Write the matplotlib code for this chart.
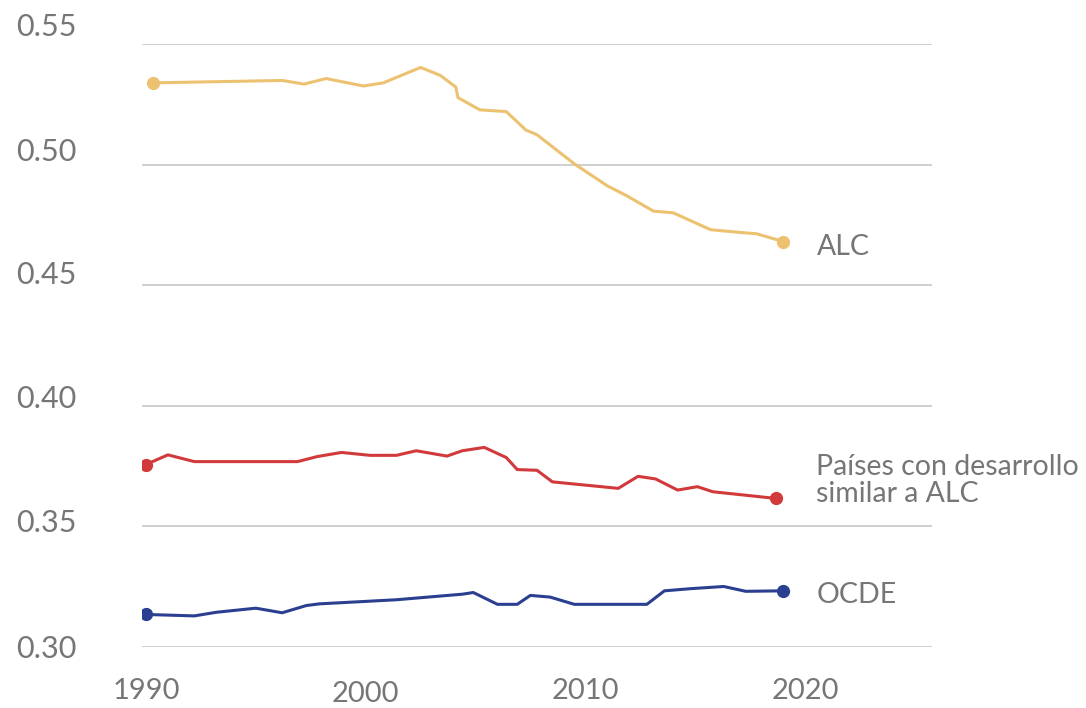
import matplotlib.pyplot as plt
from matplotlib import transforms

# values
alc_years = [1990.3, 1996.2, 1997.2, 1998.2, 1999.9, 2000.8, 2002.5, 2003.4, 2004.1,
             2004.2, 2005.2, 2006.4, 2007.3, 2007.8, 2009.5, 2011.0, 2011.9, 2013.1,
             2014.0, 2015.7, 2017.0, 2017.8, 2019.0]
alc_vals = [0.534, 0.535, 0.5335, 0.5358, 0.5327, 0.534, 0.5404, 0.5371, 0.5323,
            0.5279, 0.5228, 0.5221, 0.5144, 0.5125, 0.5004, 0.4913, 0.4871, 0.4808,
            0.4801, 0.4731, 0.472, 0.4714, 0.4682]

sim_years = [1990.0, 1991.0, 1992.2, 1996.9, 1997.8, 1998.9, 2000.2, 2001.4, 2002.3,
             2003.7, 2004.4, 2005.4, 2006.4, 2006.9, 2007.8, 2008.5, 2011.5, 2012.4,
             2013.2, 2014.2, 2015.1, 2015.8, 2018.7]
sim_vals = [0.3757, 0.3797, 0.3769, 0.3769, 0.379, 0.3807, 0.3795, 0.3795, 0.3814,
            0.3792, 0.3814, 0.3828, 0.3786, 0.3736, 0.3733, 0.3685, 0.3658, 0.3708,
            0.3697, 0.3651, 0.3665, 0.3644, 0.3616]

ocde_years = [1990.0, 1992.2, 1993.2, 1995.0, 1996.2, 1997.3, 1997.9, 2001.4, 2004.4,
              2004.9, 2006.0, 2006.9, 2007.5, 2008.4, 2009.5, 2012.8, 2013.6, 2014.8,
              2016.3, 2017.3, 2019.0]
ocde_vals = [0.3135, 0.3129, 0.3144, 0.3161, 0.3142, 0.3172, 0.3179, 0.3196, 0.3219,
             0.3226, 0.3177, 0.3177, 0.3214, 0.3207, 0.3177, 0.3177, 0.3233, 0.3242,
             0.3251, 0.3231, 0.3233]

names = ['ALC', 'Países con desarrollo\nsimilar a ALC', 'OCDE']
colors = ['#ECC271', '#D2393B', '#2A3F8F']
y_ticks = [0.30, 0.35, 0.40, 0.45, 0.50, 0.55]
x_ticks = [1990, 2000, 2010, 2020]

plt.rcParams['font.family'] = ['Lato', 'DejaVu Sans']
txt_col = '#767676'

fig = plt.figure(figsize=(10.86, 7.08), dpi=100)
ax = fig.add_axes([142 / 1086, 1 - 647 / 708, 790 / 1086, (647 - 44.3) / 708])

for yv in y_ticks:
    ax.axhline(yv, color='#cccccc', lw=1.3, zorder=1)

# label offsets from the end dot, in pixels (dx, dy up)
lab_off = [(34, -5), (40, 18), (34, -4)]
all_x = [alc_years, sim_years, ocde_years]
all_y = [alc_vals, sim_vals, ocde_vals]
for xs, ys, col, name, (dx, dy) in zip(all_x, all_y, colors, names, lab_off):
    ax.plot(xs, ys, color=col, lw=2.2, zorder=3, solid_joinstyle='round')
    ax.plot([xs[0], xs[-1]], [ys[0], ys[-1]], 'o', color=col, ms=8.5, zorder=4)
    ax.annotate(name, (xs[-1], ys[-1]), xytext=(dx * 0.72, dy * 0.72),
                textcoords='offset points', va='center', ha='left',
                fontsize=20.5, color=txt_col, linespacing=1.05,
                annotation_clip=False)

ax.set_xlim(1989.82, 2025.78)
ax.set_ylim(0.30, 0.55)
ax.set_xticks(x_ticks)
ax.set_xticklabels([str(t) for t in x_ticks])
ax.set_yticks(y_ticks)
ax.set_yticklabels(['%.2f' % t for t in y_ticks])
ax.tick_params(axis='x', length=0, labelsize=21, labelcolor=txt_col, pad=22)
ax.tick_params(axis='y', length=0, labelsize=22, labelcolor=txt_col, pad=47)
for s in ax.spines.values():
    s.set_visible(False)

# in the original the y labels drift above their gridlines towards the top
y_shift = [0, 5.5, 9, 12.5, 15, 19.5]
for lab, dy in zip(ax.get_yticklabels(), y_shift):
    lab.set_transform(lab.get_transform() +
                      transforms.ScaledTranslation(0, dy / 100, fig.dpi_scale_trans))
# and "2000" sits slightly lower than the other years
lab2000 = ax.get_xticklabels()[1]
lab2000.set_transform(lab2000.get_transform() +
                      transforms.ScaledTranslation(0, -3 / 100, fig.dpi_scale_trans))

fig.savefig('out.png', dpi=100)
